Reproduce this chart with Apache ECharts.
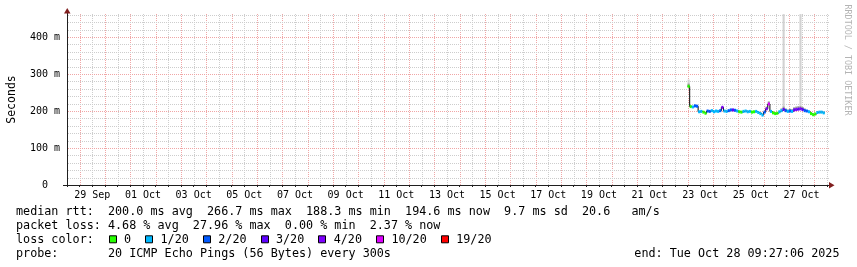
<!DOCTYPE html>
<html><head><meta charset="utf-8">
<script src="https://cdn.jsdelivr.net/npm/echarts@6/dist/echarts.min.js"></script>
<style>html,body{margin:0;padding:0;background:#fff}#c{width:857px;height:267px}</style>
</head><body><div id="c"></div>
<script>
// ---------------- DATA ----------------
// x values are hours since 2025-09-28 00:00
const axisEpochUTC = Date.UTC(2025, 8, 28, 0, 0, 0);
const axisMinHour = 12;     // 28 Sep 12:00
const axisMaxHour = 734;    // 28 Oct ~14:00
const yMaxMs = 465;
const firstSampleHour = 600; // 23 Oct 00:00
const sampleStepHours = 2;

const medianRtt = [266.7,212,211,214,213,198,199,197,194,200,
  199,201,198,200,199,201,210,200,199,201,
  203,203,202,200,198,197,199,200,198,199,
  197,198,199,196,193,189,197,206,219,199,
  195,193,194,198,201,204,201,199,200,199,
  203,204,205,206,204,201,200,198,193,190,
  192,196,197,197,195];
const lossCount = [0,0,1,2,2,1,1,0,0,2,
  2,1,1,1,1,2,4,1,1,2,
  2,3,2,1,0,0,1,1,1,1,
  0,0,1,1,1,1,2,4,10,1,
  0,0,0,1,1,3,2,1,2,1,
  3,4,3,4,3,2,2,1,0,0,
  0,1,1,1,1];
const pingHigh = [274,null,null,null,null,null,null,null,null,null,
  null,null,null,null,null,null,null,null,null,null,
  null,null,null,null,null,null,null,null,null,null,
  null,null,null,null,null,null,null,212,226,null,
  null,null,null,null,207,212,207,204,206,205,
  210,212,213,213,211,207,null,null,null,null,
  null,null,null,null,null];
const pingMax = [285,null,null,null,null,null,null,null,null,null,
  null,null,null,null,null,null,null,null,null,null,
  null,null,null,null,null,null,null,null,null,null,
  null,null,null,null,null,null,null,null,null,null,
  null,null,null,null,null,462,null,null,null,null,
  null,null,null,462,null,null,null,null,null,null,
  null,null,null,null,null];

const lossLevels = [0, 1, 2, 3, 4, 10, 19];
const lossLabels = ['0', '1/20', '2/20', '3/20', '4/20', '10/20', '19/20'];
const lossColors = ['#26ff00', '#00b8ff', '#0059ff', '#5e00ff', '#7e00ff', '#dd00ff', '#ff0000'];

const yTickValues = [0, 100, 200, 300, 400];
const yTickLabels = ['0  ', '100 m', '200 m', '300 m', '400 m'];
const monthNames = ['Jan','Feb','Mar','Apr','May','Jun','Jul','Aug','Sep','Oct','Nov','Dec'];

const yAxisTitle = 'Seconds';
const watermark = 'RRDTOOL / TOBI OETIKER';
const legendRtt = 'median rtt:  200.0 ms avg  266.7 ms max  188.3 ms min  194.6 ms now  9.7 ms sd  20.6   am/s';
const legendLoss = 'packet loss: 4.68 % avg  27.96 % max  0.00 % min  2.37 % now';
const legendLossColorTitle = 'loss color:';
const legendProbe = 'probe:       20 ICMP Echo Pings (56 Bytes) every 300s';
const legendEnd = 'end: Tue Oct 28 09:27:06 2025';

// ---------------- STYLE / LAYOUT ----------------
const MONO = '"DejaVu Sans Mono", monospace';
const GRID = {left: 67, top: 13, width: 762, height: 172};
const GRID_COL = '#cdcdcd';
const MGRID_COL = '#f0a6a6';
const AXIS_COL = '#1f1f1f';
const ARROW_COL = '#801f1f';
const LEG_FONT = '11.75px ' + MONO;
const CW = 7.07;

function lossColor(l) {
  let c = lossColors[0];
  for (let i = 0; i < lossLevels.length; i++) if (l >= lossLevels[i]) c = lossColors[i];
  return c;
}

const samples = medianRtt.map((v, i) => [firstSampleHour + i * sampleStepHours, v, lossCount[i], pingHigh[i], pingMax[i]]);
const lineData = samples.map(s => [s[0], s[1]]);
lineData.push([samples[samples.length - 1][0] + sampleStepHours, samples[samples.length - 1][1]]);

// grid line positions (ticks): every 12 h vertically, every 20 ms horizontally
const vGrid = [];
for (let h = axisMinHour + 12; h < axisMaxHour; h += 12) vGrid.push([h, 0, h % 24 === 0 ? 1 : 0]);
const hGrid = [];
for (let v = 20; v < yMaxMs; v += 20) hGrid.push([axisMinHour, v, v % 100 === 0 ? 1 : 0]);

function hourLabel(h) {
  if ((h - 36) % 48 !== 0) return '';
  const d = new Date(axisEpochUTC + h * 3600e3);
  const dd = String(d.getUTCDate()).padStart(2, '0');
  return dd + ' ' + monthNames[d.getUTCMonth()];
}

const chart = echarts.init(document.getElementById('c'), null, {renderer: 'canvas'});

// graphics: arrows, texts, legend
const graphics = [];
const gL = GRID.left, gT = GRID.top, gR = GRID.left + GRID.width, gB = GRID.top + GRID.height;
graphics.push({type: 'polygon', shape: {points: [[gL - 3, gT + 0.5], [gL + 3.5, gT + 0.5], [gL + 0.25, gT - 5]]}, style: {fill: ARROW_COL}, z: 10});
graphics.push({type: 'polygon', shape: {points: [[gR, gB - 3], [gR, gB + 3.5], [gR + 5.5, gB + 0.25]]}, style: {fill: ARROW_COL}, z: 10});
graphics.push({type: 'line', shape: {x1: gL - 4, y1: gB + 0.5, x2: gL, y2: gB + 0.5}, style: {stroke: AXIS_COL, lineWidth: 1}});
graphics.push({type: 'text', x: 12, y: 99.5, rotation: Math.PI / 2,
  style: {text: yAxisTitle, font: '11.5px ' + MONO, fill: '#000', align: 'center', verticalAlign: 'middle'}});
graphics.push({type: 'text', x: 847, y: 60, rotation: -Math.PI / 2,
  style: {text: watermark, font: '8.4px ' + MONO, fill: '#b4b4b4', align: 'center', verticalAlign: 'middle'}});

const LX = 16;
const rows = [212, 225.6, 239.8, 253.8];
graphics.push({type: 'text', x: LX, y: rows[0], style: {text: legendRtt, font: LEG_FONT, fill: '#000', align: 'left', verticalAlign: 'middle'}});
graphics.push({type: 'text', x: LX, y: rows[1], style: {text: legendLoss, font: LEG_FONT, fill: '#000', align: 'left', verticalAlign: 'middle'}});
graphics.push({type: 'text', x: LX, y: rows[2], style: {text: legendLossColorTitle, font: LEG_FONT, fill: '#000', align: 'left', verticalAlign: 'middle'}});
graphics.push({type: 'text', x: LX, y: rows[3], style: {text: legendProbe, font: LEG_FONT, fill: '#000', align: 'left', verticalAlign: 'middle'}});
graphics.push({type: 'text', x: 839.5, y: rows[3], style: {text: legendEnd, font: LEG_FONT, fill: '#000', align: 'right', verticalAlign: 'middle'}});

let cx = LX + 13 * CW + 0.8;
lossLabels.forEach((lab, i) => {
  graphics.push({type: 'rect', shape: {x: Math.round(cx) + 0.5, y: rows[2] - 4, width: 7, height: 7},
    style: {fill: lossColors[i], stroke: '#000', lineWidth: 1}});
  graphics.push({type: 'text', x: cx + 15.3, y: rows[2], style: {text: lab, font: LEG_FONT, fill: '#000', align: 'left', verticalAlign: 'middle'}});
  cx += 15.3 + (lab.length + 2) * CW;
});

const option = {
  backgroundColor: '#ffffff',
  animation: false,
  grid: {left: GRID.left, top: GRID.top, width: GRID.width, height: GRID.height, containLabel: false},
  xAxis: {
    type: 'value', min: axisMinHour, max: axisMaxHour, interval: 12,
    axisLine: {show: true, onZero: false, lineStyle: {color: AXIS_COL, width: 1}},
    axisTick: {show: true, length: 2, lineStyle: {color: AXIS_COL}},
    axisLabel: {show: true, margin: 5, color: '#000', fontFamily: MONO, fontSize: 10,
      formatter: v => hourLabel(v), showMinLabel: true, showMaxLabel: false, hideOverlap: false},
    splitLine: {show: false}
  },
  yAxis: {
    type: 'value', min: 0, max: yMaxMs, interval: 20,
    axisLine: {show: true, onZero: false, lineStyle: {color: AXIS_COL, width: 1}},
    axisTick: {show: false},
    axisLabel: {show: true, margin: 7, color: '#000', fontFamily: MONO, fontSize: 10,
      formatter: v => { const k = yTickValues.indexOf(v); return k >= 0 ? yTickLabels[k] : ''; },
      showMaxLabel: false},
    splitLine: {show: false}
  },
  series: [
    {
      type: 'custom', name: 'vgrid', z: 0, clip: false, silent: true, data: vGrid,
      renderItem: (params, api) => {
        const h = api.value(0), major = api.value(2);
        const p0 = api.coord([h, 0]), p1 = api.coord([h, yMaxMs]);
        const x = Math.round(p0[0]) + 0.5;
        return {type: 'line', shape: {x1: x, y1: Math.round(p0[1]), x2: x, y2: Math.round(p1[1])},
          style: {stroke: major ? MGRID_COL : GRID_COL, lineWidth: 1, lineDash: [1, 1], lineCap: 'butt'}};
      }
    },
    {
      type: 'custom', name: 'hgrid', z: 0, clip: false, silent: true, data: hGrid,
      renderItem: (params, api) => {
        const v = api.value(1), major = api.value(2);
        const p0 = api.coord([axisMinHour, v]), p1 = api.coord([axisMaxHour, v]);
        const y = Math.round(p0[1]) + 0.5;
        return {type: 'line', shape: {x1: Math.round(p0[0]) + 1, y1: y, x2: Math.round(p1[0]), y2: y},
          style: {stroke: major ? MGRID_COL : GRID_COL, lineWidth: 1, lineDash: [1, 1], lineCap: 'butt'}};
      }
    },
    {
      type: 'custom', name: 'smoke', z: 1, clip: true, silent: true,
      data: samples,
      renderItem: (params, api) => {
        const t = api.value(0), med = api.value(1), hi = api.value(3), mx = api.value(4);
        const children = [];
        const x0 = api.coord([t, med])[0], x1 = api.coord([t + sampleStepHours, med])[0];
        if (!isNaN(mx) && mx != null) {
          const ya = api.coord([t, mx])[1], yb = api.coord([t, med])[1];
          children.push({type: 'rect', shape: {x: x0, y: ya, width: x1 - x0, height: yb - ya}, style: {fill: '#d2d2d2'}});
        }
        if (!isNaN(hi) && hi != null) {
          const ya = api.coord([t, hi])[1], yb = api.coord([t, med])[1];
          children.push({type: 'rect', shape: {x: x0, y: ya, width: x1 - x0, height: yb - ya}, style: {fill: '#9a9a9a'}});
        }
        return {type: 'group', children};
      }
    },
    {
      type: 'line', name: 'median', z: 2, step: 'end', symbol: 'none', silent: true,
      data: lineData, lineStyle: {color: '#000', width: 1}
    },
    {
      type: 'custom', name: 'loss', z: 3, clip: true, silent: true,
      data: samples,
      renderItem: (params, api) => {
        const t = api.value(0), med = api.value(1), l = api.value(2);
        const p0 = api.coord([t, med]), p1 = api.coord([t + sampleStepHours, med]);
        return {type: 'rect', shape: {x: p0[0], y: p0[1] - 1.5, width: p1[0] - p0[0], height: 3}, style: {fill: lossColor(l)}};
      }
    }
  ],
  graphic: graphics
};
chart.setOption(option);
</script>
</body></html>
